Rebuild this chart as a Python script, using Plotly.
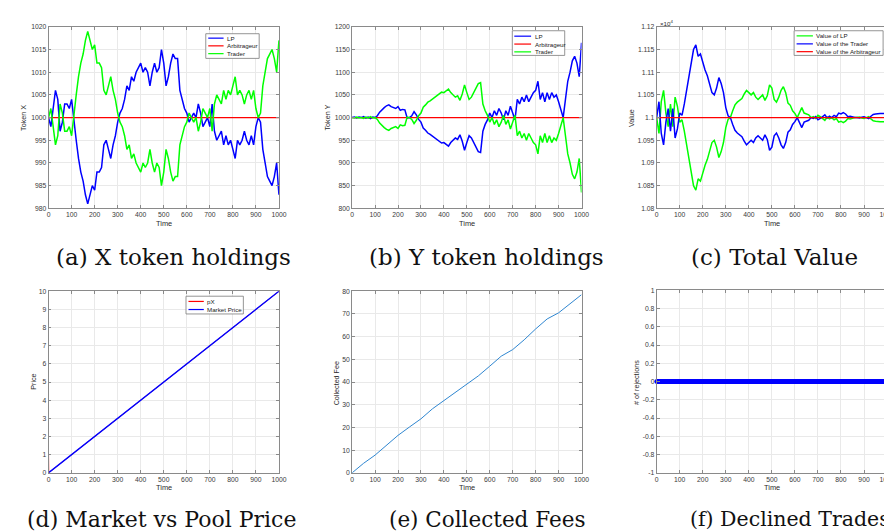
import plotly.graph_objects as go

W, H = 892, 531

# ---------------- data ----------------
time = list(range(0, 1001, 10))

lp_x = [1000, 998, 1002, 1006, 1004, 997, 999, 1003, 1003, 1002,
        1004, 999, 995, 991, 988, 986, 983, 981, 983, 985,
        984, 988, 988, 989, 994, 995, 993, 991, 994, 996,
        999, 1001, 1002, 1004, 1007, 1006, 1009, 1008, 1010, 1011,
        1012, 1010, 1011, 1010, 1007, 1010, 1012, 1010, 1011, 1015,
        1012, 1007, 1009, 1012, 1014, 1013, 1013, 1006, 1004, 1002,
        1001, 999, 1000, 1001, 1000, 1003, 1001, 998, 999, 1000,
        998, 1003, 997, 995, 996, 997, 994, 996, 994, 995,
        993, 991, 995, 994, 995, 997, 995, 994, 996, 994,
        998, 1000, 999, 993, 990, 987, 986, 985, 987, 990,
        983]
trader_x = [1000, 1002, 998, 994, 996, 1003, 1001, 997, 997, 998,
            996, 1001, 1005, 1009, 1012, 1014, 1017, 1019, 1017, 1015,
            1016, 1012, 1012, 1011, 1006, 1005, 1007, 1009, 1006, 1004,
            1001, 999, 998, 996, 993, 994, 991, 992, 990, 989,
            988, 990, 989, 990, 993, 990, 988, 990, 989, 985,
            988, 993, 991, 988, 986, 987, 987, 994, 996, 998,
            999, 1001, 1000, 999, 1000, 997, 999, 1002, 1001, 1000,
            1002, 997, 1003, 1005, 1004, 1003, 1006, 1004, 1006, 1005,
            1007, 1009, 1005, 1006, 1005, 1003, 1005, 1006, 1004, 1006,
            1002, 1000, 1001, 1007, 1010, 1013, 1014, 1015, 1013, 1010,
            1017]
arb_x = [1000, 1000]
arb_time = [0, 1000]

lp_y = [1000, 1001, 999, 1001, 1000, 1002, 999, 1001, 998, 1001,
        1000, 1004, 1012, 1018, 1022, 1026, 1028, 1024, 1022, 1020,
        1024, 1016, 1018, 1017, 999, 1000, 1004, 1013, 1006, 996,
        990, 977, 972, 966, 963, 959, 955, 950, 946, 944,
        945, 940, 937, 945, 950, 955, 952, 962, 948, 928,
        945, 960, 955, 945, 935, 925, 923, 970, 985, 995,
        1010, 1000, 1015, 1005, 1020, 1010, 995, 1015, 1005, 1025,
        1010, 995, 1040, 1030, 1045, 1035, 1050, 1035, 1045, 1055,
        1060, 1080, 1040, 1055, 1035, 1055, 1040, 1055, 1045, 1050,
        1035, 1015, 1000, 1040, 1080, 1100, 1125, 1135, 1120, 1090,
        1165]
trader_y = [1000, 999, 1001, 999, 1000, 998, 1001, 999, 1002, 999,
            1000, 996, 988, 982, 978, 974, 972, 976, 978, 980,
            976, 984, 982, 983, 1001, 1000, 996, 987, 994, 1004,
            1010, 1023, 1028, 1034, 1037, 1041, 1045, 1050, 1054, 1056,
            1055, 1060, 1063, 1055, 1050, 1045, 1048, 1038, 1052, 1072,
            1055, 1040, 1045, 1055, 1065, 1075, 1077, 1030, 1015, 1005,
            990, 1000, 985, 995, 980, 990, 1005, 985, 995, 975,
            990, 1005, 960, 970, 955, 965, 950, 965, 955, 945,
            940, 920, 960, 945, 965, 945, 960, 945, 955, 950,
            965, 985, 1000, 960, 920, 900, 875, 865, 880, 910,
            835]
arb_y = [1000, 1000]

value_lp = [11000, 10965, 11035, 11060, 11010, 10980, 11030, 10980, 11045, 11025,
            10990, 10995, 10970, 10940, 10905, 10875, 10850, 10840, 10865, 10860,
            10880, 10895, 10908, 10925, 10945, 10950, 10935, 10912, 10925, 10945,
            10978, 10996, 11000, 11015, 11028, 11034, 11038, 11042, 11052, 11060,
            11055, 11050, 11055, 11045, 11040, 11045, 11050, 11038, 11048, 11072,
            11065, 11040, 11034, 11045, 11060, 11068, 11055, 11032, 11027, 11015,
            11009, 11000, 11010, 11022, 11010, 11008, 11006, 11000, 11002, 10998,
            11005, 11002, 10998, 10994, 11001, 10997, 11000, 10995, 10998, 10990,
            10992, 10989, 10992, 10998, 10997, 10999, 11000, 11000, 11001, 10999,
            10998, 11000, 11002, 10997, 10993, 10992, 10991, 10991, 10991, 10991,
            10991]
value_trader = [11000, 11035, 10965, 10940, 10990, 11020, 10970, 11020, 10955, 10975,
                11010, 11005, 11030, 11060, 11095, 11125, 11150, 11160, 11135, 11140,
                11120, 11105, 11092, 11075, 11055, 11050, 11065, 11088, 11075, 11055,
                11022, 11004, 11000, 10985, 10972, 10966, 10962, 10958, 10948, 10940,
                10945, 10950, 10945, 10955, 10960, 10955, 10950, 10962, 10952, 10928,
                10935, 10960, 10966, 10955, 10940, 10932, 10945, 10968, 10973, 10985,
                10991, 11000, 10990, 10978, 10990, 10992, 10994, 11000, 10998, 11002,
                10995, 10998, 11002, 11006, 10999, 11003, 11000, 11005, 11002, 11010,
                11008, 11011, 11008, 11002, 11003, 11001, 11000, 11000, 10999, 11001,
                11002, 11000, 10998, 11003, 11007, 11008, 11009, 11009, 11009, 11009,
                11009]
value_arb = [11000, 11000]
value_ticks = [10800, 10850, 10900, 10950, 11000, 11050, 11100, 11150, 11200]
value_ticktext = ["1.08", "1.085", "1.09", "1.095", "1.1", "1.105", "1.11", "1.115", "1.12"]

price_time = [0, 1, 1000]
px_price = [1, 0.01, 10]
market_price = [0, 0.01, 10]

fee_time = list(range(0, 1001, 50))
fees = [0, 4.2, 7.8, 12.2, 16.5, 20.2, 23.8, 28.2, 31.8, 35.4,
        39, 42.7, 47, 51.4, 54.3, 58.6, 63.4, 67.8, 70.5, 74.6, 78.5]

rej_time = list(range(0, 1001, 2))
rejections = [0] * len(rej_time)
rej_ticks = [-1, -0.8, -0.6, -0.4, -0.2, 0, 0.2, 0.4, 0.6, 0.8, 1]
rej_ticktext = ["-1", "-0.8", "-0.6", "-0.4", "-0.2", "0", "0.2", "0.4", "0.6", "0.8", "1"]

captions = ["(a) X token holdings", "(b) Y token holdings", "(c) Total Value",
            "(d) Market vs Pool Price", "(e) Collected Fees", "(f) Declined Trades"]

# ---------------- helpers ----------------
def fx(p):
    return p / W

def fy(p):
    return 1 - p / H

BLUE, RED, GREEN = "#0000ff", "#ff0000", "#00ff00"
FEE = "#2f86d0"
SANS = "Liberation Sans, Arial, sans-serif"

fig = go.Figure()

def add(x, y, color, xa, ya, width=1.5, **kw):
    fig.add_trace(go.Scatter(x=x, y=y, mode="lines", line=dict(color=color, width=width),
                             xaxis=xa, yaxis=ya, showlegend=False, **kw))

# (a)
add(time, lp_x, BLUE, "x", "y")
add(arb_time, arb_x, RED, "x", "y", width=1.2)
add(time, trader_x, GREEN, "x", "y")
# (b)
add(time, lp_y, BLUE, "x2", "y2")
add(arb_time, arb_y, RED, "x2", "y2", width=1.2)
add(time, trader_y, GREEN, "x2", "y2")
# (c)
add(time, value_lp, GREEN, "x3", "y3")
add(time, value_trader, BLUE, "x3", "y3")
add(arb_time, value_arb, RED, "x3", "y3", width=1.2)
# (d)
add(price_time, px_price, RED, "x4", "y4", width=0.8)
add(price_time, market_price, BLUE, "x4", "y4", width=1.4)
# (e)
add(fee_time, fees, FEE, "x5", "y5", width=1.0)
# (f)
fig.add_trace(go.Scatter(x=rej_time, y=rejections, mode="markers",
                         marker=dict(color=BLUE, size=4.5, line=dict(width=0)),
                         xaxis="x6", yaxis="y6", showlegend=False, cliponaxis=False))

# ---------------- axes ----------------
boxes = {
    1: ((39, 272), (15, 199)),
    2: ((346, 578), (15, 199)),
    3: ((654, 887), (15, 199)),
    4: ((39, 272), (283, 467)),
    5: ((346, 578), (283, 467)),
    6: ((654, 887), (282, 467)),
}

common = dict(showline=True, mirror="ticks", linecolor="#8a8a8a", linewidth=0.8,
              ticks="inside", ticklen=3, tickcolor="#8a8a8a", tickwidth=0.8,
              showgrid=True, gridcolor="#e9e9e9", gridwidth=0.8, zeroline=False,
              tickfont=dict(family=SANS, size=6.8, color="#3a3a3a"))

yranges = {1: [980, 1020], 2: [800, 1200], 3: [10800, 11200], 4: [0, 10], 5: [0, 80], 6: [-1, 1]}
ydticks = {1: 5, 2: 50, 4: 1, 5: 10}

layout = dict(width=W, height=H, margin=dict(l=0, r=0, t=0, b=0),
              paper_bgcolor="white", plot_bgcolor="white", showlegend=False)
for i, ((x0, x1), (y0, y1)) in boxes.items():
    s = "" if i == 1 else str(i)
    xa = dict(common, domain=[fx(x0), fx(x1)], range=[0, 1000], dtick=100, tick0=0,
              anchor="y" + s)
    ya = dict(common, domain=[fy(y1), fy(y0)], range=yranges[i], anchor="x" + s)
    if i in ydticks:
        ya.update(dtick=ydticks[i], tick0=0)
    if i == 3:
        ya.update(tickmode="array", tickvals=value_ticks, ticktext=value_ticktext)
    if i == 6:
        ya.update(tickmode="array", tickvals=rej_ticks, ticktext=rej_ticktext)
    layout["xaxis" + s] = xa
    layout["yaxis" + s] = ya

fig.update_layout(**layout)

# ---------------- annotations (axis titles, captions) ----------------
ann = []

def text(x, y, t, size=7.2, angle=0, family=SANS, color="#2a2a2a", xanchor="center"):
    ann.append(dict(x=fx(x), y=fy(y), xref="paper", yref="paper", text=t, showarrow=False,
                    textangle=angle, xanchor=xanchor, yanchor="middle",
                    font=dict(family=family, size=size, color=color)))

for cx, cy in [(155.5, 214), (462, 214), (770.5, 214), (155.5, 482), (462, 482), (770.5, 482)]:
    text(cx, cy, "Time", size=7.4)
text(13.5, 107, "Token X", angle=-90)
text(321.5, 107, "Token Y", angle=-90)
text(628.5, 107, "Value", angle=-90)
text(23, 375, "Price", angle=-90)
text(330, 376, "Collected Fee", angle=-90)
text(633, 375, "# of rejections", angle=-90)
text(655, 11, "×10<sup>4</sup>", size=6.2, xanchor="left")

cap_pos = [(165, 248), (482, 248), (773, 248), (153, 514), (482, 514), (789, 514)]
cap_size = [23, 23, 23, 22, 21.5, 20.5]
for (cx, cy), c, sz in zip(cap_pos, captions, cap_size):
    text(cx, cy, c, size=sz, family="DejaVu Serif, serif", color="#111111")

# ---------------- legends (boxes with line samples) ----------------
shapes = []

def legend(box, entries, lx0, lx1, tx, ys):
    bx0, by0, bx1, by1 = box
    shapes.append(dict(type="rect", xref="paper", yref="paper", x0=fx(bx0), x1=fx(bx1),
                       y0=fy(by1), y1=fy(by0), fillcolor="white",
                       line=dict(color="#7a7a7a", width=0.8)))
    for (label, color), yy in zip(entries, ys):
        shapes.append(dict(type="line", xref="paper", yref="paper", x0=fx(lx0), x1=fx(lx1),
                           y0=fy(yy), y1=fy(yy), line=dict(color=color, width=1.2)))
        text(tx, yy, label, size=6.2, xanchor="left", color="#1a1a1a")

legend((198, 22, 252, 47), [("LP", BLUE), ("Arbitrageur", RED), ("Trader", GREEN)],
       200.5, 216, 217.5, [26.5, 34.3, 42.2])
legend((508, 19, 561, 44), [("LP", BLUE), ("Arbitrageur", RED), ("Trader", GREEN)],
       510, 527, 528.5, [24.5, 32.5, 40.4])
legend((793, 19, 883, 44), [("Value of LP", GREEN), ("Value of the Trader", BLUE),
                            ("Value of the Arbitrageur", RED)],
       795.5, 812, 813.5, [24.2, 32.3, 40.2])
legend((178, 288, 236, 306), [("pX", RED), ("Market Price", BLUE)],
       180.5, 196, 197.5, [293.3, 301.5])

fig.update_layout(annotations=ann, shapes=shapes)
fig.write_html("out.html")
